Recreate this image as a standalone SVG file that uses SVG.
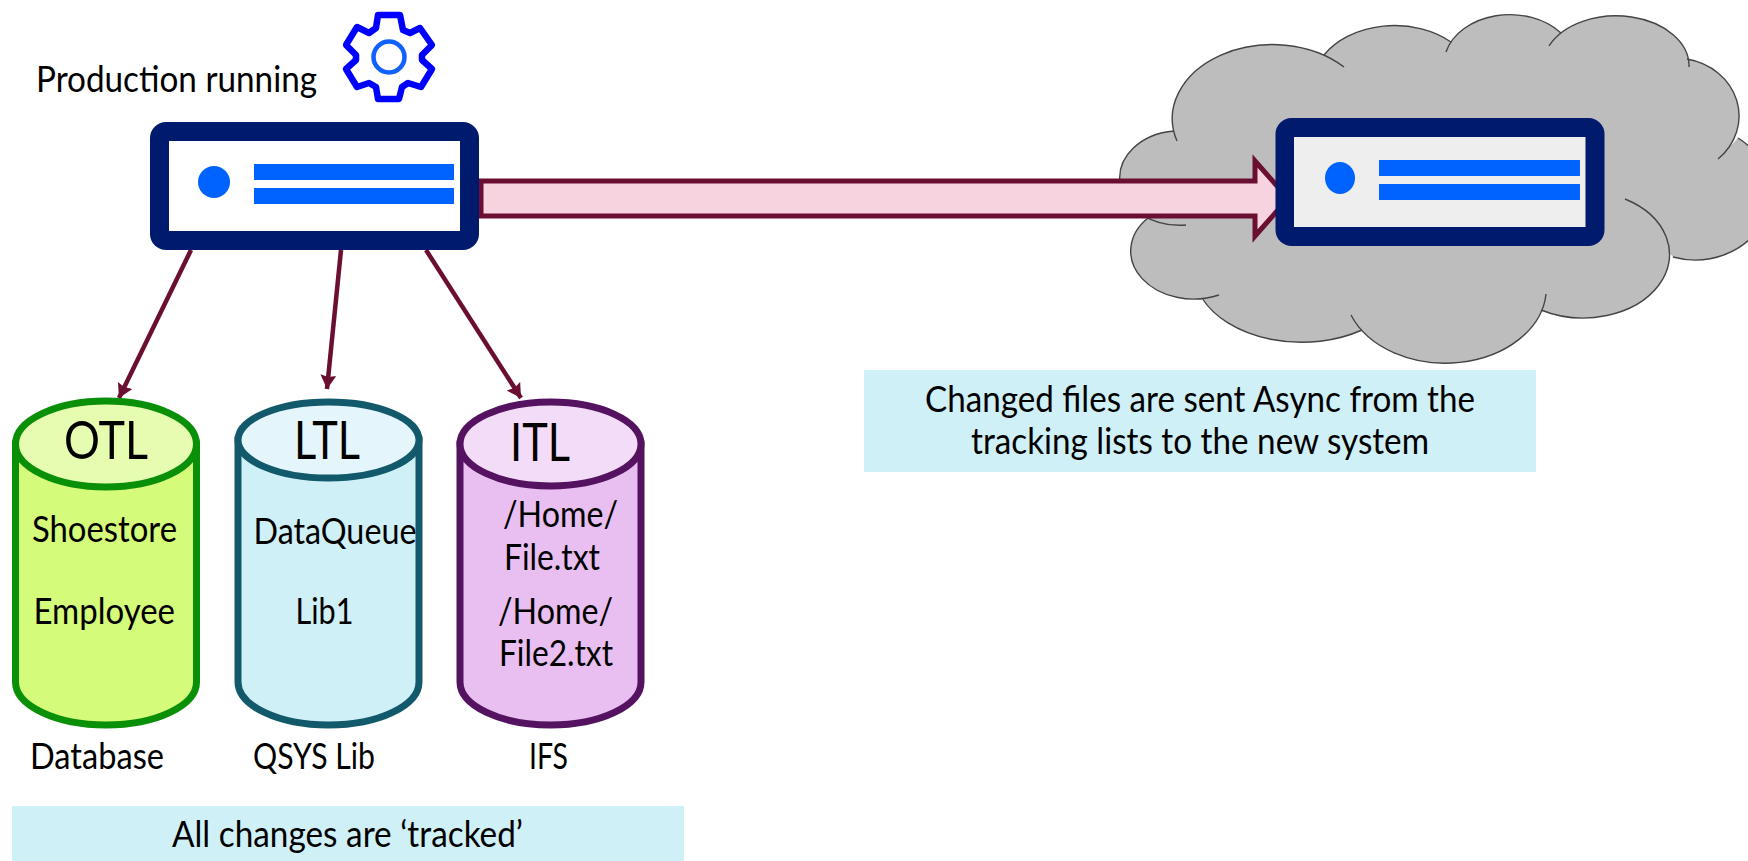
<svg xmlns="http://www.w3.org/2000/svg" width="1748" height="861" viewBox="0 0 1748 861">
<style>
text{font-family:Lato,"Noto Sans","Liberation Sans",sans-serif;fill:#000;font-size:36px}
.big{font-size:53px}
.srv{fill:#001a6e}
.bar{fill:#0062ff}
.conn{stroke:#6a0f31;stroke-width:4.500;fill:none;marker-end:url(#ah)}
.cl{fill:none;stroke:#444;stroke-width:1.400}
.cy{stroke-width:7}
</style>
<defs>
<marker id="ah" markerUnits="userSpaceOnUse" markerWidth="18" markerHeight="18" refX="14" refY="8" orient="auto"><path d="M0 0L14 8L0 16L2 8Z" fill="#6a0f31"/></marker>
</defs>
<g id="cloud">
<path fill="#bdbdbd" d="M1177 141A100 74 0 0 1 1344 67L1324 55A82 60 0 0 1 1451 42L1446 52A66 50 0 0 1 1561 33L1549 46A73 50 0 0 1 1689 67L1687 59A64 58 0 0 1 1718 159L1738 138A75 67 0 0 1 1673 257L1625 199A86 63 0 0 1 1541 310L1546 294A101 75 0 0 1 1351 315L1362 330A108 72 0 0 1 1202 298L1219 295A63 48 0 0 1 1148 218L1186 225A60 47 0 0 1 1174 131Z"/>
<path class="cl" d="M1177 141A100 74 0 0 1 1344 67M1324 55A82 60 0 0 1 1451 42M1446 52A66 50 0 0 1 1561 33M1549 46A73 50 0 0 1 1689 67M1687 59A64 58 0 0 1 1718 159M1738 138A75 67 0 0 1 1673 257M1625 199A86 63 0 0 1 1541 310M1546 294A101 75 0 0 1 1351 315M1362 330A108 72 0 0 1 1202 298M1219 295A63 48 0 0 1 1148 218M1186 225A60 47 0 0 1 1174 131"/>
</g>
<g id="connectors">
<path d="M481 181H1255V161L1288 198.500L1255 236V216H481Z" fill="#f7d3e0" stroke="#6a0f31" stroke-width="5"/>
<path class="conn" d="M191 250L119 398"/>
<path class="conn" d="M341 250L327 389"/>
<path class="conn" d="M426 250L521 398"/>
</g>
<g id="server-production">
<rect class="srv" x="150" y="122" width="329" height="128" rx="16"/>
<rect x="169" y="141" width="291" height="90" fill="#fff"/>
<circle class="bar" cx="214" cy="182" r="16"/>
<rect class="bar" x="254" y="164" width="200" height="16"/>
<rect class="bar" x="254" y="188" width="200" height="16"/>
</g>
<g id="server-target">
<rect class="srv" x="1275.500" y="118" width="329" height="128" rx="16"/>
<rect x="1294" y="137" width="291.500" height="90" fill="#eee"/>
<ellipse class="bar" cx="1340" cy="178" rx="15" ry="16"/>
<rect class="bar" x="1379" y="160" width="201" height="16"/>
<rect class="bar" x="1379" y="184" width="201" height="16"/>
</g>
<g id="production-label"><text x="36" y="92" textLength="281" lengthAdjust="spacingAndGlyphs">Production running</text></g>
<g id="gear">
<path fill="none" stroke="#0000ff" stroke-width="6.500" stroke-linejoin="round" d="M378 15H400L403 30L410 33L420 28L432 45L422 55V60L432 69L421 87L408 83L402 87L399 99H378L376 87L369 83L357 87L346 69L356 60V55L346 45L357 27L369 33L376 28Z"/>
<circle cx="389" cy="57" r="15.500" fill="none" stroke="#0f62fe" stroke-width="4.500"/>
</g>
<g id="otl">
<path class="cy" fill="#d4fb79" stroke="#0a8f08" d="M15.500 444V682A90.500 43 0 0 0 196.500 682V444Z"/>
<ellipse class="cy" cx="106" cy="444" rx="90.500" ry="43" fill="#e6fcb0" stroke="#0a8f08"/>
<text class="big" x="64" y="459" textLength="84" lengthAdjust="spacingAndGlyphs">OTL</text>
<text x="32" y="542" textLength="145" lengthAdjust="spacingAndGlyphs">Shoestore</text>
<text x="33.500" y="624" textLength="141.500" lengthAdjust="spacingAndGlyphs">Employee</text>
<text x="30" y="769" textLength="134" lengthAdjust="spacingAndGlyphs">Database</text>
</g>
<g id="ltl">
<path class="cy" fill="#d0f0f8" stroke="#12596b" d="M238 440V682A90.500 43 0 0 0 419 682V440Z"/>
<ellipse class="cy" cx="328.500" cy="440" rx="90.500" ry="38" fill="#e4f6fb" stroke="#12596b"/>
<text class="big" x="294" y="459" textLength="66" lengthAdjust="spacingAndGlyphs">LTL</text>
<text x="253.500" y="544" textLength="163" lengthAdjust="spacingAndGlyphs">DataQueue</text>
<text x="295.500" y="624" textLength="58" lengthAdjust="spacingAndGlyphs">Lib1</text>
<text x="253" y="769" textLength="122" lengthAdjust="spacingAndGlyphs">QSYS Lib</text>
</g>
<g id="itl">
<path class="cy" fill="#e8bff0" stroke="#541260" d="M460 444V682A90.500 43 0 0 0 641 682V444Z"/>
<ellipse class="cy" cx="550.500" cy="444" rx="90.500" ry="42" fill="#f3dcf7" stroke="#541260"/>
<text class="big" x="510" y="461" textLength="60" lengthAdjust="spacingAndGlyphs">ITL</text>
<text x="503" y="527" textLength="115" lengthAdjust="spacingAndGlyphs">/Home/</text>
<text x="504" y="570" textLength="96" lengthAdjust="spacingAndGlyphs">File.txt</text>
<text x="498" y="624" textLength="115" lengthAdjust="spacingAndGlyphs">/Home/</text>
<text x="499" y="666" textLength="114" lengthAdjust="spacingAndGlyphs">File2.txt</text>
<text x="529" y="769" textLength="39" lengthAdjust="spacingAndGlyphs">IFS</text>
</g>
<g id="note-tracked">
<rect x="12" y="806" width="672" height="55" fill="#d0f0f8"/>
<text x="172" y="847" textLength="351" lengthAdjust="spacingAndGlyphs">All changes are ‘tracked’</text>
</g>
<g id="note-async">
<rect x="864" y="370" width="672" height="102" fill="#d0f0f8"/>
<text x="925" y="412" textLength="550" lengthAdjust="spacingAndGlyphs">Changed files are sent Async from the</text>
<text x="971" y="454" textLength="458" lengthAdjust="spacingAndGlyphs">tracking lists to the new system</text>
</g>
</svg>
